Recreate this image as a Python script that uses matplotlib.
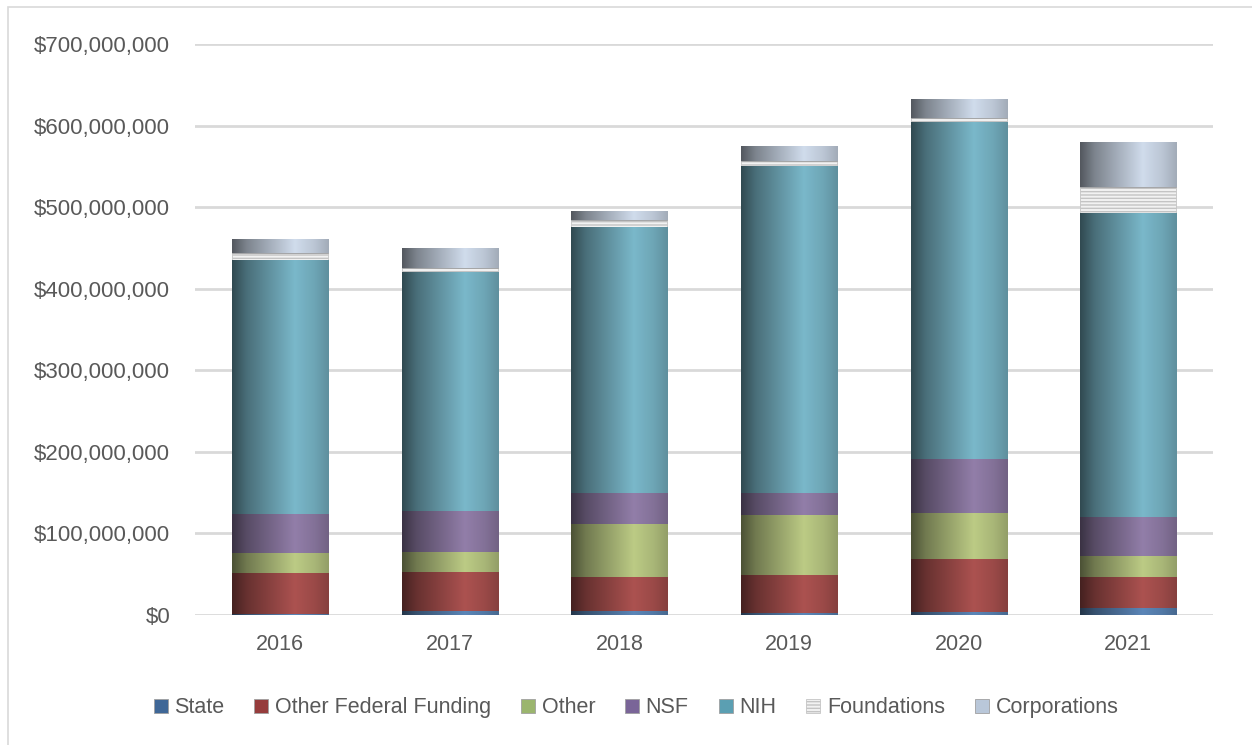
import matplotlib
matplotlib.use("Agg")
import matplotlib.pyplot as plt
import numpy as np
from matplotlib.colors import to_rgb
from matplotlib.ticker import FuncFormatter

years = ["2016", "2017", "2018", "2019", "2020", "2021"]
series = ["State", "Other Federal Funding", "Other", "NSF", "NIH", "Foundations", "Corporations"]
state = [1.5e6, 5e6, 5e6, 2e6, 4e6, 8.6e6]
other_federal = [50e6, 48e6, 41.6e6, 47e6, 64.6e6, 38e6]
other = [24.5e6, 24e6, 65e6, 73.6e6, 56.4e6, 25.4e6]
nsf = [48e6, 50.5e6, 38e6, 27e6, 66e6, 48e6]
nih = [311e6, 292.5e6, 326e6, 400.5e6, 413e6, 371.6e6]
foundations = [9e6, 5e6, 8.5e6, 6e6, 5e6, 33e6]
corporations = [17e6, 24e6, 10.5e6, 18e6, 22.5e6, 54.5e6]
values = [state, other_federal, other, nsf, nih, foundations, corporations]

# flat colours (legend) and bright colours (cylinder highlight)
flat = ["#3f6797", "#963c3c", "#9bb56e", "#7a6598", "#5b9fb2", "#eeeeee", "#b9c7d9"]
bright = ["#5b86b8", "#ac5250", "#bccb85", "#927ea9", "#7ab8ca", None, "#d0dcec"]

txt = "#595959"
plt.rcParams["font.family"] = ["Liberation Sans", "DejaVu Sans"]

fig = plt.figure(figsize=(12.52, 7.45), dpi=100)
ax = fig.add_axes([0.156, 0.1745, 0.813, 0.7665])

x = np.arange(len(years))
width = 0.566
t = np.linspace(0, 1, 200)
shade = np.interp(t, [0, 0.15, 0.65, 0.85, 1.0], [0.4, 0.6, 1.0, 0.9, 0.78])

bottom = np.zeros(len(years))
for i, name in enumerate(series):
    vals = np.array(values[i])
    if name == "Foundations":
        bars = ax.bar(x, vals, width, bottom=bottom, color="#f2f2f2", edgecolor="#c4c4c4",
                      hatch="-----", linewidth=0.6, label=name, zorder=3)
    else:
        bars = ax.bar(x, vals, width, bottom=bottom, color=flat[i], edgecolor="#a0a0a0",
                      linewidth=0.6, label=name, zorder=3)
        rgb = np.array(to_rgb(bright[i]))
        img = np.clip(shade[None, :, None] * rgb[None, None, :], 0, 1)
        for b in bars:
            ax.imshow(img, extent=[b.get_x(), b.get_x() + b.get_width(), b.get_y(), b.get_y() + b.get_height()],
                      aspect="auto", interpolation="bilinear", zorder=3.5)
    bottom += vals

ax.set_xlim(-0.5, len(years) - 0.5)
ax.set_ylim(0, 700e6)
ax.set_yticks(np.arange(0, 700e6 + 1, 100e6))
ax.yaxis.set_major_formatter(FuncFormatter(lambda v, p: "${:,.0f}".format(v)))
ax.set_xticks(x)
ax.set_xticklabels(years)
ax.grid(axis="y", color="#d9d9d9", linewidth=2, zorder=0)
ax.set_axisbelow(True)
for s in ax.spines.values():
    s.set_visible(False)
ax.tick_params(axis="y", length=0, colors=txt, labelsize=16, pad=18)
ax.tick_params(axis="x", length=0, colors=txt, labelsize=15.5, pad=14)

handles, labels = ax.get_legend_handles_labels()
leg = fig.legend(handles, labels, loc="center", bbox_to_anchor=(0.508, 0.05), ncol=7, frameon=False,
                 fontsize=15.5, handlelength=0.65, handleheight=0.65, handletextpad=0.3, columnspacing=1.4)
for tx in leg.get_texts():
    tx.set_color(txt)

fig.patches.append(plt.Rectangle((0.006, -0.01), 1.0, 1.0, transform=fig.transFigure,
                                 fill=False, edgecolor="#d9d9d9", linewidth=1.2))

fig.savefig("out.png", dpi=100)
